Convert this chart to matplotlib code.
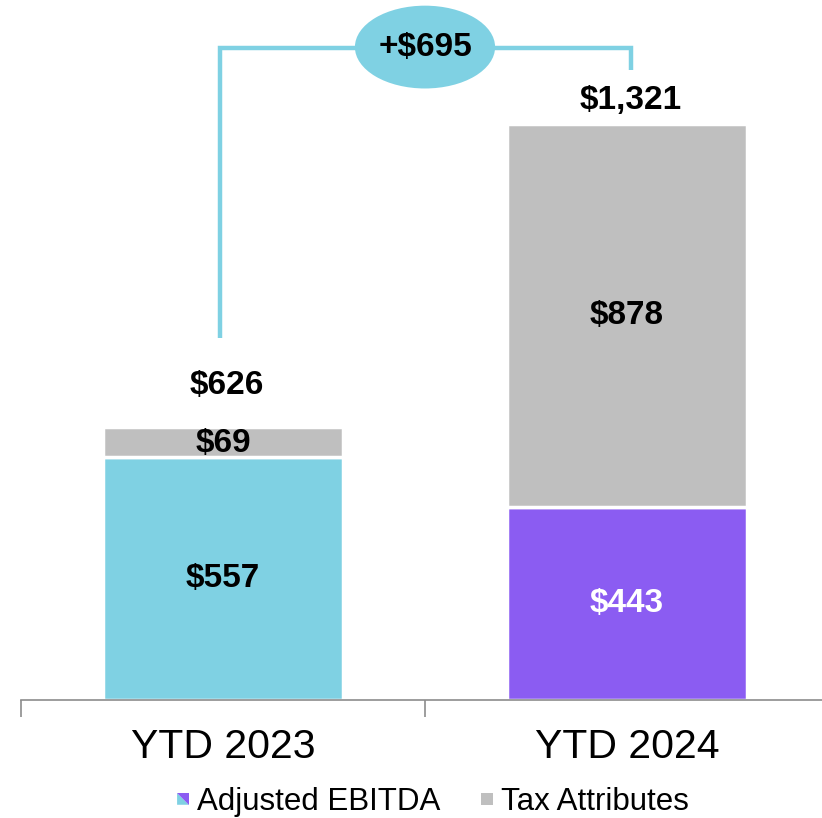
import matplotlib
matplotlib.use("Agg")
import matplotlib.pyplot as plt
from matplotlib.patches import Ellipse, Polygon, Rectangle
from matplotlib.legend_handler import HandlerBase

plt.rcParams['font.family'] = ['Liberation Sans', 'DejaVu Sans']

categories = ["YTD 2023", "YTD 2024"]
ebitda = [557, 443]
tax = [69, 878]
totals = [626, 1321]
ebitda_labels = ["$557", "$443"]
tax_labels = ["$69", "$878"]
total_labels = ["$626", "$1,321"]
delta_label = "+$695"

CYAN = "#7FD1E3"
PURPLE = "#8B5CF2"
GRAY = "#BFBFBF"

fig = plt.figure(figsize=(8.22, 8.18), dpi=100)
ax = fig.add_axes([21/822, 118/818, 808/822, 700/818])
ax.set_xlim(-0.5, 1.5)
ax.set_ylim(0, 1606)

x = list(range(len(categories)))
w = 0.595
ebitda_colors = [CYAN, PURPLE]
ax.bar(x, ebitda, width=w, color=ebitda_colors, edgecolor="white", linewidth=2.5)
ax.bar(x, tax, bottom=ebitda, width=w, color=GRAY, edgecolor="white", linewidth=2.5)

FS = 24
# segment labels
ax.text(0, ebitda[0] / 2, ebitda_labels[0], ha="center", va="center", fontsize=FS, fontweight="bold", color="black")
ax.text(1, ebitda[1] / 2, ebitda_labels[1], ha="center", va="center", fontsize=FS, fontweight="bold", color="white")
ax.text(0, ebitda[0] + tax[0] / 2 - 4, tax_labels[0], ha="center", va="center", fontsize=FS, fontweight="bold", color="black")
ax.text(1, ebitda[1] + tax[1] / 2, tax_labels[1], ha="center", va="center", fontsize=FS, fontweight="bold", color="black")
total_offsets = [96, 55]
for i, (t, lab) in enumerate(zip(totals, total_labels)):
    ax.text(i + 0.01, t + total_offsets[i], lab, ha="center", va="center", fontsize=FS, fontweight="bold", color="black")

# bracket
top_y = 1495
ax.plot([-0.0075, -0.0075, 1.01, 1.01], [totals[0] + 205, top_y, top_y, top_y - 50],
        color=CYAN, linewidth=3.2, solid_capstyle="butt", solid_joinstyle="miter", clip_on=False, zorder=3)
ell = Ellipse((0.5, top_y + 3), width=0.347, height=190, facecolor=CYAN, edgecolor="none", zorder=4, clip_on=False)
ax.add_patch(ell)
ax.text(0.5, top_y + 3, delta_label, ha="center", va="center", fontsize=FS, fontweight="bold", color="black", zorder=5)

# axes styling
for s in ["top", "right", "left"]:
    ax.spines[s].set_visible(False)
ax.spines["bottom"].set_color("#8C8C8C")
ax.spines["bottom"].set_linewidth(1.2)
ax.set_yticks([])
ax.set_xticks([-0.5, 0.5, 1.5])
ax.set_xticklabels([])
ax.tick_params(axis="x", direction="out", length=12, color="#8C8C8C", width=1.2)
for i, c in enumerate(categories):
    ax.text(i, -108, c, ha="center", va="center", fontsize=29.5, color="black")


class SplitHandler(HandlerBase):
    def create_artists(self, legend, orig_handle, xdescent, ydescent, width, height, fontsize, trans):
        s = min(width, height) * 0.75
        x0 = width - s - xdescent
        y0 = -ydescent + (height - s) / 2
        t2 = Polygon([[x0, y0], [x0 + s, y0], [x0, y0 + s]], closed=True, facecolor=CYAN, edgecolor="none", transform=trans)
        t1 = Polygon([[x0 + s, y0], [x0 + s, y0 + s], [x0, y0 + s]], closed=True, facecolor=PURPLE, edgecolor="none", transform=trans)
        return [t2, t1]


class SquareHandler(HandlerBase):
    def create_artists(self, legend, orig_handle, xdescent, ydescent, width, height, fontsize, trans):
        s = min(width, height) * 0.75
        x0 = width - s - xdescent
        y0 = -ydescent + (height - s) / 2
        return [Rectangle((x0, y0), s, s, facecolor=GRAY, edgecolor="none", transform=trans)]


h1 = Rectangle((0, 0), 1, 1)
h2 = Rectangle((0, 0), 1, 1, facecolor=GRAY)
fig.legend([h1, h2], ["Adjusted EBITDA", "Tax Attributes"],
           handler_map={h1: SplitHandler(), h2: SquareHandler()},
           loc="center", bbox_to_anchor=(431/822, 1 - 802/818), ncol=2, frameon=False,
           fontsize=22.5, handlelength=0.5, handleheight=0.5, handletextpad=0.25, columnspacing=1.2)

fig.savefig("out.png", dpi=100)
